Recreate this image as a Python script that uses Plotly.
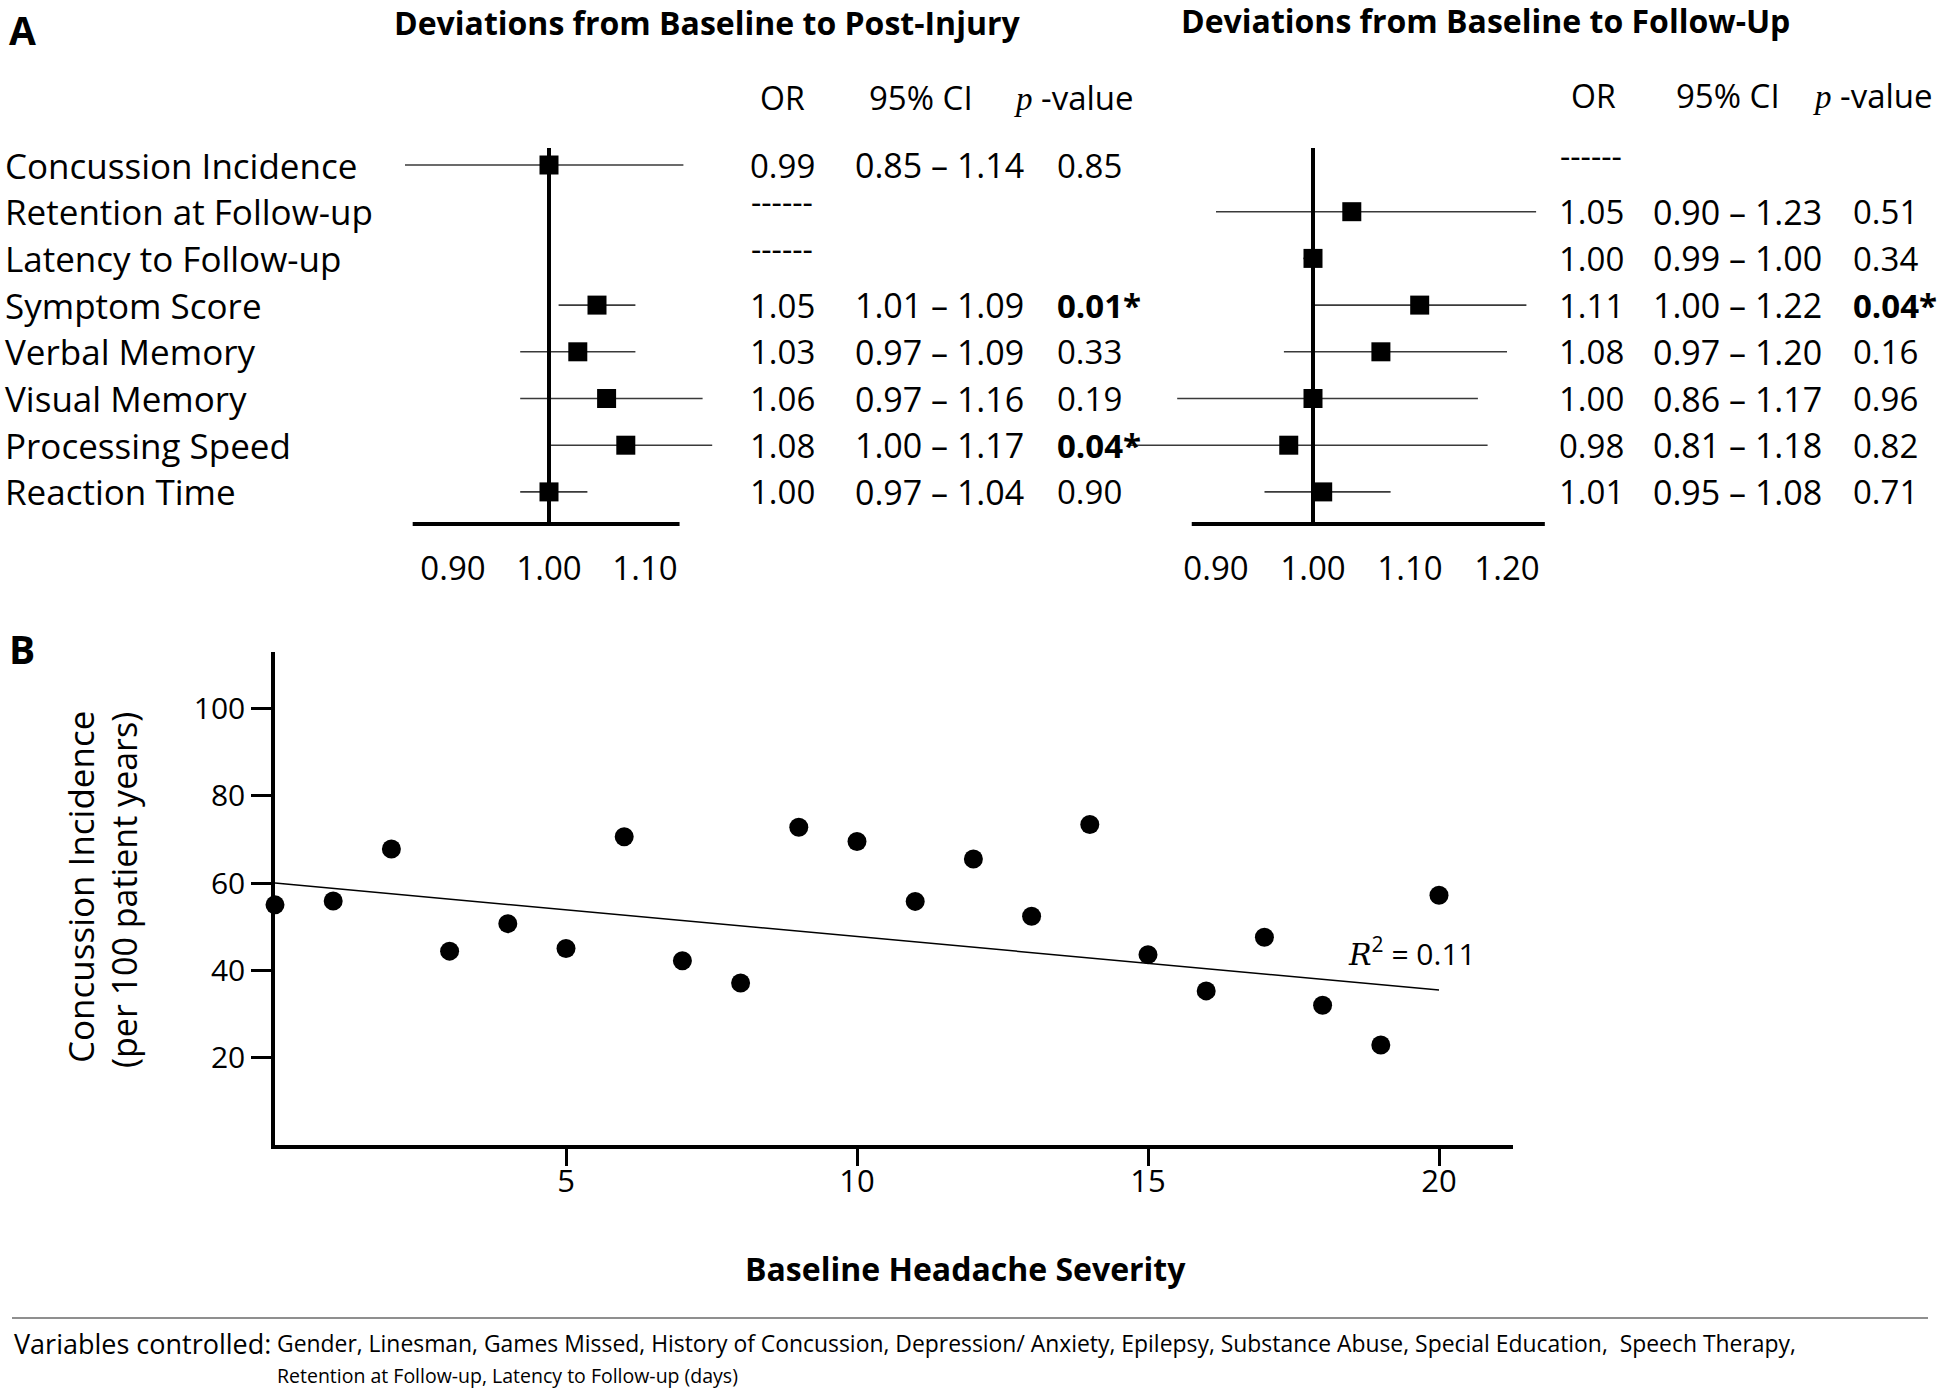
import plotly.graph_objects as go

W, H = 1944, 1390
FONT = "Open Sans"

# ---------------- data ----------------
outcomes = ["Concussion Incidence", "Retention at Follow-up", "Latency to Follow-up",
            "Symptom Score", "Verbal Memory", "Visual Memory", "Processing Speed", "Reaction Time"]

# Baseline -> Post-Injury (table values)
or_post = [0.99, None, None, 1.05, 1.03, 1.06, 1.08, 1.00]
lo_post = [0.85, None, None, 1.01, 0.97, 0.97, 1.00, 0.97]
hi_post = [1.14, None, None, 1.09, 1.09, 1.16, 1.17, 1.04]
p_post = [0.85, None, None, 0.01, 0.33, 0.19, 0.04, 0.90]
# plotted point estimates (as drawn)
est_post = [1.00, None, None, 1.05, 1.03, 1.06, 1.08, 1.00]

# Baseline -> Follow-Up
or_fu = [None, 1.05, 1.00, 1.11, 1.08, 1.00, 0.98, 1.01]
lo_fu = [None, 0.90, 0.99, 1.00, 0.97, 0.86, 0.81, 0.95]
hi_fu = [None, 1.23, 1.00, 1.22, 1.20, 1.17, 1.18, 1.08]
p_fu = [None, 0.51, 0.34, 0.04, 0.16, 0.96, 0.82, 0.71]
est_fu = [None, 1.04, 1.00, 1.11, 1.07, 1.00, 0.975, 1.01]

forest_ticks_post = [0.90, 1.00, 1.10]
forest_ticks_fu = [0.90, 1.00, 1.10, 1.20]
tickmarks_post = [0.90, 1.10]
tickmarks_fu = [0.90, 1.10, 1.20]

# Panel B
severity = [0, 1, 2, 3, 4, 5, 6, 7, 8, 9, 10, 11, 12, 13, 14, 15, 16, 17, 18, 19, 20]
incidence = [55.0, 55.9, 67.8, 44.4, 50.7, 45.0, 70.6, 42.2, 37.1, 72.8, 69.5,
             55.8, 65.5, 52.4, 73.4, 43.6, 35.3, 47.6, 32.0, 22.9, 57.2]
trend_x = [0, 20]
trend_y = [60.0, 35.5]
sev_ticks = [5, 10, 15, 20]
inc_ticks = [20, 40, 60, 80, 100]
r2_text = "0.11"

controlled = ("Gender, Linesman, Games Missed, History of Concussion, Depression/ Anxiety, Epilepsy, "
              "Substance Abuse, Special Education,  Speech Therapy,")
controlled2 = "Retention at Follow-up, Latency to Follow-up (days)"


# ---------------- helpers ----------------
def px(x):
    return x / W


def py(y):
    return 1 - y / H


fig = go.Figure()


def ci_trace(lo, hi, xa, ya):
    xs, ys = [], []
    for i, (a, b) in enumerate(zip(lo, hi)):
        if a is None:
            continue
        xs += [a, b, None]
        ys += [i, i, None]
    return go.Scatter(x=xs, y=ys, mode="lines", line=dict(color="#3a3a3a", width=1.6),
                      xaxis=xa, yaxis=ya, showlegend=False, hoverinfo="skip")


def pt_trace(est, xa, ya):
    xs = [v for v in est if v is not None]
    ys = [i for i, v in enumerate(est) if v is not None]
    return go.Scatter(x=xs, y=ys, mode="markers",
                      marker=dict(symbol="square", size=19, color="black"),
                      xaxis=xa, yaxis=ya, showlegend=False, cliponaxis=False)


fig.add_trace(ci_trace(lo_post, hi_post, "x", "y"))
fig.add_trace(pt_trace(est_post, "x", "y"))
fig.add_trace(ci_trace(lo_fu, hi_fu, "x2", "y2"))
fig.add_trace(pt_trace(est_fu, "x2", "y2"))

# Panel B scatter
fig.add_trace(go.Scatter(x=trend_x, y=trend_y, mode="lines", line=dict(color="black", width=1.5),
                         xaxis="x3", yaxis="y3", showlegend=False))
fig.add_trace(go.Scatter(x=severity, y=incidence, mode="markers",
                         marker=dict(symbol="circle", size=19, color="black"),
                         xaxis="x3", yaxis="y3", showlegend=False, cliponaxis=False))

# ---------------- axes geometry ----------------
ROW0, ROWSTEP = 165.0, 46.7
F_TOP, F_BOT = 140.0, 524.0
yr = [(F_BOT - ROW0) / ROWSTEP, (F_TOP - ROW0) / ROWSTEP]

# left forest: x_px = 549 + (v-1)*960
L0, L1 = 400.0, 720.0
xr1 = [1 + (L0 - 549) / 960, 1 + (L1 - 549) / 960]
# right forest: x_px = 1313 + (v-1)*970
R0, R1 = 1125.0, 1555.0
xr2 = [1 + (R0 - 1313) / 970, 1 + (R1 - 1313) / 970]

tickfont = dict(family=FONT, size=33, color="black")
base_ax = dict(showgrid=False, zeroline=False, showline=False)

lay = dict(
    width=W, height=H, margin=dict(l=0, r=0, t=0, b=0),
    paper_bgcolor="white", plot_bgcolor="rgba(0,0,0,0)",
    font=dict(family=FONT, color="black"),
    xaxis=dict(**base_ax, domain=[px(L0), px(L1)], range=xr1, anchor="y",
               tickmode="array", tickvals=forest_ticks_post,
               ticktext=[f"{v:.2f}" for v in forest_ticks_post], ticks="",
               ticklabelstandoff=22, tickfont=tickfont),
    yaxis=dict(**base_ax, domain=[py(F_BOT), py(F_TOP)], range=yr, anchor="x",
               showticklabels=False, ticks=""),
    xaxis2=dict(**base_ax, domain=[px(R0), px(R1)], range=xr2, anchor="y2",
                tickmode="array", tickvals=forest_ticks_fu,
                ticktext=[f"{v:.2f}" for v in forest_ticks_fu], ticks="",
                ticklabelstandoff=22, tickfont=tickfont),
    yaxis2=dict(**base_ax, domain=[py(F_BOT), py(F_TOP)], range=yr, anchor="x2",
                showticklabels=False, ticks=""),
    xaxis4=dict(**base_ax, overlaying="x", anchor="y", range=xr1, tickmode="array",
                tickvals=tickmarks_post, ticks="outside", ticklen=20, tickwidth=3.5,
                tickcolor="black", showticklabels=False),
    xaxis5=dict(**base_ax, overlaying="x2", anchor="y2", range=xr2, tickmode="array",
                tickvals=tickmarks_fu, ticks="outside", ticklen=20, tickwidth=3.5,
                tickcolor="black", showticklabels=False),
    # Panel B
    xaxis3=dict(showgrid=False, zeroline=False, showline=True, linewidth=3.5, linecolor="black",
                domain=[px(275), px(1513)], range=[0, (1513 - 275) / 58.2], anchor="y3",
                tickmode="array", tickvals=sev_ticks, ticks="outside", ticklen=17,
                tickwidth=3, tickcolor="black", ticklabelstandoff=-11,
                tickfont=dict(family=FONT, size=31, color="black")),
    yaxis3=dict(showgrid=False, zeroline=False, showline=True, linewidth=3.5, linecolor="black",
                domain=[py(1145), py(652)], range=[0, (1145 - 652) / 4.366], anchor="x3",
                tickmode="array", tickvals=inc_ticks, ticks="outside", ticklen=20,
                tickwidth=3, tickcolor="black", tickfont=dict(family=FONT, size=30, color="black")),
)
fig.update_layout(**lay)

shapes = []
# forest axis lines and reference lines
shapes.append(dict(type="line", xref="x", yref="y domain", x0=0.858, x1=1.136, y0=0, y1=0,
                   line=dict(color="black", width=4)))
shapes.append(dict(type="line", xref="x2", yref="y2 domain", x0=0.875, x1=1.239, y0=0, y1=0,
                   line=dict(color="black", width=4)))
shapes.append(dict(type="line", xref="x", yref="y", x0=1, x1=1, y0=(148 - ROW0) / ROWSTEP, y1=yr[0],
                   line=dict(color="black", width=4)))
shapes.append(dict(type="line", xref="x2", yref="y2", x0=1, x1=1, y0=(148 - ROW0) / ROWSTEP, y1=yr[0],
                   line=dict(color="black", width=4)))
# footer rule
shapes.append(dict(type="line", xref="paper", yref="paper", x0=px(12), x1=px(1928),
                   y0=py(1318), y1=py(1318), line=dict(color="#6a6a6a", width=1.6)))
fig.update_layout(shapes=shapes)

ann = []


def text(x, y, s, size, xanchor="center", yanchor="middle", yref="paper", **kw):
    ann.append(dict(x=x, y=y, xref="paper", yref=yref, text=s, showarrow=False,
                    xanchor=xanchor, yanchor=yanchor,
                    font=dict(family=FONT, size=size, color="black"), **kw))


# Panel labels and titles
text(px(7), py(30), "<b>A</b>", 39, xanchor="left")
text(px(7), py(648), "<b>B</b>", 39, xanchor="left")
text(px(707), py(22), "<b>Deviations from Baseline to Post-Injury</b>", 32)
text(px(1485), py(20), "<b>Deviations from Baseline to Follow-Up</b>", 32)

# Row labels
for i, name in enumerate(outcomes):
    text(px(3), i, name, 35, xanchor="left", yref="y")

PSPAN = "<span style='font-family:Liberation Serif'><i>p</i></span>"

# table headers
text(px(782), py(97), "OR", 32)
text(px(921), py(97), "95% CI", 33)
text(px(1012), py(97), PSPAN + " -value", 33, xanchor="left")
text(px(1593), py(95), "OR", 32)
text(px(1728), py(95), "95% CI", 33)
text(px(1811), py(95), PSPAN + " -value", 33, xanchor="left")


def table(or_v, lo_v, hi_v, p_v, yref, x_or, x_ci, x_p):
    for i in range(len(or_v)):
        if or_v[i] is None:
            text(px(x_or), i, "------", 32, yref=yref, yshift=10)
            continue
        text(px(x_or), i, f"{or_v[i]:.2f}", 33, yref=yref)
        text(px(x_ci), i, f"{lo_v[i]:.2f} – {hi_v[i]:.2f}", 34, yref=yref)
        ps = f"{p_v[i]:.2f}"
        if p_v[i] < 0.05:
            ps = f"<b>{ps}*</b>"
        text(px(x_p), i, ps, 33, xanchor="left", yref=yref)


table(or_post, lo_post, hi_post, p_post, "y", 782, 939, 1055)
table(or_fu, lo_fu, hi_fu, p_fu, "y2", 1591, 1737, 1851)

# Panel B labels
text(px(965), py(1268), "<b>Baseline Headache Severity</b>", 32)
ann.append(dict(x=px(80), y=py(887), xref="paper", yref="paper", text="Concussion Incidence",
                showarrow=False, textangle=-90, xanchor="center", yanchor="middle",
                font=dict(family=FONT, size=35, color="black")))
ann.append(dict(x=px(124), y=py(890), xref="paper", yref="paper", text="(per 100 patient years)",
                showarrow=False, textangle=-90, xanchor="center", yanchor="middle",
                font=dict(family=FONT, size=34, color="black")))
ann.append(dict(x=18.4, y=44.2, xref="x3", yref="y3", xanchor="left", yanchor="middle",
                text="<span style='font-family:DejaVu Serif'><i>R</i></span><sup>2</sup> = " + r2_text,
                showarrow=False, font=dict(family=FONT, size=30, color="black")))

# Footer
text(px(12), py(1343), "Variables controlled:", 27, xanchor="left")
text(px(275), py(1343), controlled, 22.9, xanchor="left")
text(px(275), py(1375), controlled2, 19.5, xanchor="left")

fig.update_layout(annotations=ann)
fig.write_html("out.html", config={"displayModeBar": False},
               post_script="document.body.style.margin='0px';document.body.style.overflow='hidden';")
